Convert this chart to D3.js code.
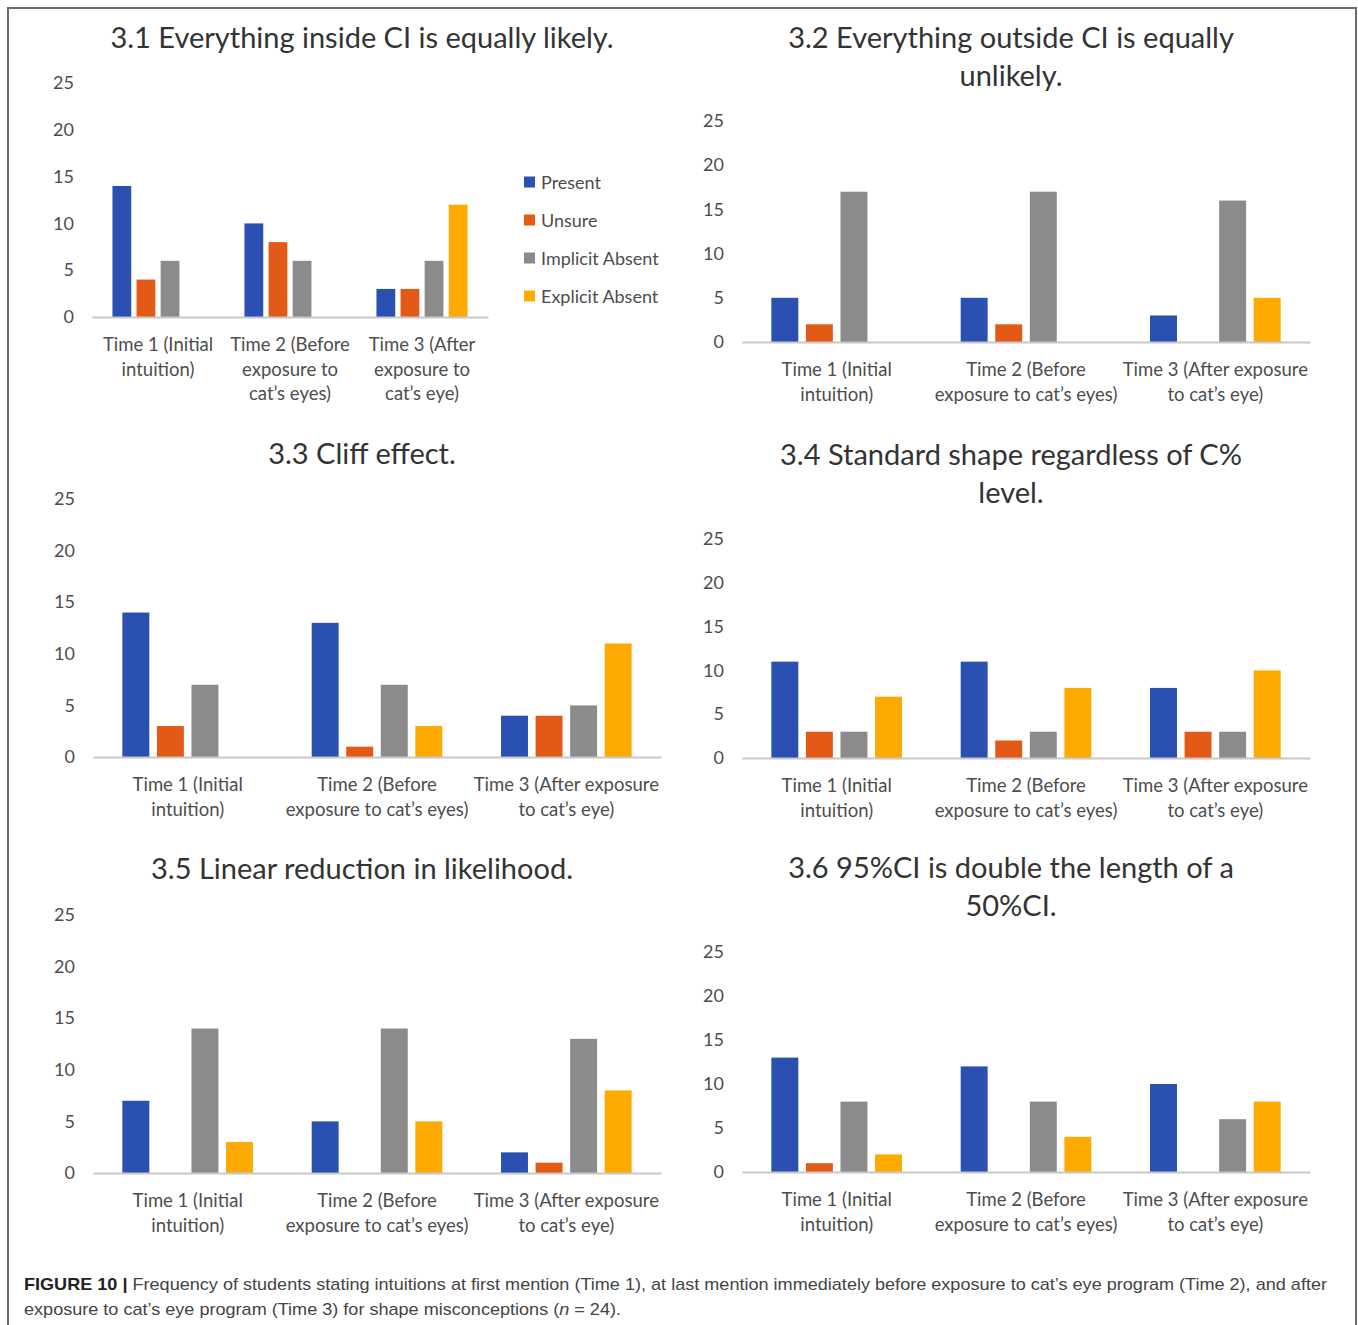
<!DOCTYPE html>
<html>
<head>
<meta charset="utf-8">
<script src="https://cdn.jsdelivr.net/npm/d3@7"></script>
<style>
  html, body { margin: 0; padding: 0; background: #fff; }
  svg { display: block; }
</style>
</head>
<body>
<svg id="fig" width="1358" height="1325"></svg>
<script>
// ---- data ----
const seriesNames = ["Present", "Unsure", "Implicit Absent", "Explicit Absent"];
const times = ["Time 1", "Time 2", "Time 3"];
const yTicks = [0, 5, 10, 15, 20, 25];

// category labels, wrapped two ways
const timeLabelsNarrow = [
  ["Time 1 (Initial", "intuition)"],
  ["Time 2 (Before", "exposure to", "cat’s eyes)"],
  ["Time 3 (After", "exposure to", "cat’s eye)"]
];
const timeLabelsWide = [
  ["Time 1 (Initial", "intuition)"],
  ["Time 2 (Before", "exposure to cat’s eyes)"],
  ["Time 3 (After exposure", "to cat’s eye)"]
];

const titles = [
  ["3.1 Everything inside CI is equally likely."],
  ["3.2 Everything outside CI is equally", "unlikely."],
  ["3.3 Cliff effect."],
  ["3.4 Standard shape regardless of C%", "level."],
  ["3.5 Linear reduction in likelihood."],
  ["3.6 95%CI is double the length of a", "50%CI."]
];

// counts per series, Time 1..3
const present  = [[14, 10, 3], [5, 5, 3], [14, 13, 4], [11, 11, 8], [7, 5, 2], [13, 12, 10]];
const unsure   = [[4, 8, 3],   [2, 2, 0], [3, 1, 4],   [3, 2, 3],   [0, 0, 1], [1, 0, 0]];
const implicit = [[6, 6, 6],   [17, 17, 16], [7, 7, 5], [3, 3, 3],  [14, 14, 13], [8, 8, 6]];
const explicit = [[0, 0, 12],  [0, 0, 5], [0, 3, 11],  [7, 8, 10],  [3, 5, 8], [2, 4, 8]];

const captionLine1 = "Frequency of students stating intuitions at first mention (Time 1), at last mention immediately before exposure to cat’s eye program (Time 2), and after";
const captionLine2a = "exposure to cat’s eye program (Time 3) for shape misconceptions (";
const captionLine2b = "n";
const captionLine2c = " = 24).";

// ---- styling ----
const colors = ["#2a51b1", "#e35a17", "#8b8b8b", "#ffaa00"];
const fontFamily = "Lato, 'Open Sans', sans-serif";

// panel frames: plot area and title anchor
const panels = [
  { left: 92,  right: 488,  y0: 317,  y25: 83,  tx: 362,  ty: 38,  labels: timeLabelsNarrow, legend: true },
  { left: 742, right: 1310, y0: 342,  y25: 121, tx: 1011, ty: 38,  labels: timeLabelsWide },
  { left: 93,  right: 661,  y0: 757,  y25: 499, tx: 362,  ty: 454, labels: timeLabelsWide },
  { left: 742, right: 1310, y0: 758,  y25: 539, tx: 1011, ty: 455, labels: timeLabelsWide },
  { left: 93,  right: 661,  y0: 1173, y25: 915, tx: 362,  ty: 869, labels: timeLabelsWide },
  { left: 742, right: 1310, y0: 1172, y25: 952, tx: 1011, ty: 868, labels: timeLabelsWide }
];

const svg = d3.select("#fig");

// outer frame (open at the bottom)
svg.append("path")
  .attr("d", "M8,1325 L8,8 L1356,8 L1356,1325")
  .attr("fill", "none")
  .attr("stroke", "#6b6b6b")
  .attr("stroke-width", 2);

panels.forEach((p, i) => {
  const g = svg.append("g");
  const values = [present[i], unsure[i], implicit[i], explicit[i]];

  const x0 = d3.scaleBand().domain(times).range([p.left, p.right]).padding(0);
  const groupW = x0.bandwidth() * 0.69;
  const x1 = d3.scaleBand().domain(seriesNames)
    .range([(x0.bandwidth() - groupW) / 2, (x0.bandwidth() + groupW) / 2])
    .paddingInner(0.22).paddingOuter(0);
  const y = d3.scaleLinear().domain([0, 25]).range([p.y0, p.y25]);

  // title
  const title = g.append("text")
    .attr("x", p.tx).attr("y", p.ty)
    .attr("text-anchor", "middle")
    .attr("font-family", fontFamily)
    .attr("font-size", 29)
    .attr("fill", "#333");
  titles[i].forEach((line, k) => {
    title.append("tspan")
      .attr("x", p.tx)
      .attr("dy", k === 0 ? "0.35em" : 38)
      .text(line);
  });

  // y axis labels
  const yAxis = g.append("g")
    .attr("transform", `translate(${p.left},0)`)
    .call(d3.axisLeft(y).tickValues(yTicks).tickSize(0).tickPadding(18));
  yAxis.select(".domain").remove();
  yAxis.selectAll("text")
    .attr("font-family", fontFamily)
    .attr("font-size", 18)
    .attr("fill", "#4d4d4d");

  // bars
  seriesNames.forEach((s, si) => {
    g.append("g").selectAll("rect")
      .data(times.map((t, ti) => ({ t, v: values[si][ti] })).filter(d => d.v > 0))
      .join("rect")
      .attr("x", d => x0(d.t) + x1(s))
      .attr("y", d => y(d.v))
      .attr("width", x1.bandwidth())
      .attr("height", d => y(0) - y(d.v))
      .attr("fill", colors[si]);
  });

  // x axis
  const xAxis = g.append("g")
    .attr("transform", `translate(0,${p.y0})`)
    .call(d3.axisBottom(x0).tickSize(0).tickPadding(0));
  xAxis.select(".domain")
    .attr("stroke", "#c8c8c8")
    .attr("stroke-width", 2);
  xAxis.selectAll(".tick text").each(function (d, ti) {
    const t = d3.select(this);
    t.text(null)
      .attr("y", null)
      .attr("dy", null)
      .attr("font-family", fontFamily)
      .attr("font-size", 18.5)
      .attr("fill", "#4d4d4d");
    p.labels[ti].forEach((line, k) => {
      t.append("tspan")
        .attr("x", 0)
        .attr("y", 27 + k * 24.5)
        .attr("dominant-baseline", "central")
        .text(line);
    });
  });

  // legend
  if (p.legend) {
    const lg = g.append("g");
    seriesNames.forEach((s, si) => {
      const cy = 182 + si * 38;
      lg.append("rect")
        .attr("x", 524).attr("y", cy - 5.5)
        .attr("width", 11).attr("height", 11)
        .attr("fill", colors[si]);
      lg.append("text")
        .attr("x", 541).attr("y", cy)
        .attr("dominant-baseline", "central")
        .attr("font-family", fontFamily)
        .attr("font-size", 18)
        .attr("fill", "#4d4d4d")
        .text(s);
    });
  }
});

// caption
const cap = svg.append("g")
  .attr("font-family", "'Liberation Sans', Arial, sans-serif")
  .attr("font-size", 17)
  .attr("fill", "#444");
const l1 = cap.append("text")
  .attr("x", 24).attr("y", 1290)
  .attr("textLength", 1303)
  .attr("lengthAdjust", "spacingAndGlyphs");
l1.append("tspan").attr("font-weight", "bold").attr("fill", "#222").text("FIGURE 10 | ");
l1.append("tspan").text(captionLine1);
const l2 = cap.append("text")
  .attr("x", 24).attr("y", 1315)
  .attr("textLength", 597)
  .attr("lengthAdjust", "spacingAndGlyphs");
l2.append("tspan").text(captionLine2a);
l2.append("tspan").attr("font-style", "italic").text(captionLine2b);
l2.append("tspan").text(captionLine2c);
</script>
</body>
</html>
